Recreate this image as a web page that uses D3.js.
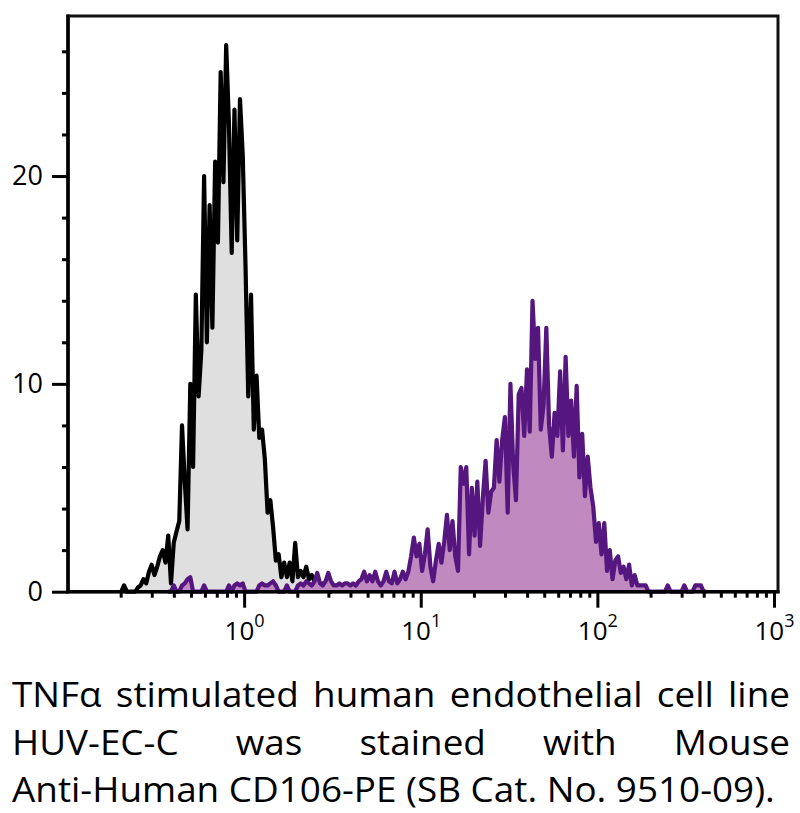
<!DOCTYPE html>
<html><head><meta charset="utf-8">
<script src="https://cdn.jsdelivr.net/npm/d3@7"></script>
<style>body{margin:0;background:#fff} svg{display:block}</style>
</head><body>
<svg id="c" width="800" height="813"></svg>
<script>
// ---- data ----
const channelsPerDecade = 64;          // histogram channels per decade of the log axis
const firstChannelLog10 = -1;          // channel 0 starts at 10^-1

const controlFirstChannel = 20;        // isotype control (grey / black)
const controlCounts = [
  0.3, 0, 0, 0, 0, 0.2, 0.3, 0.6, 0.4, 0.95,
  1.3, 0.8, 1.2, 1.7, 2.0, 1.4, 2.7, 0.4, 2.35, 2.9,
  3.4, 8.0, 5.3, 3.0, 10.0, 6.0, 14.3, 9.4, 11.6, 20.0,
  12.0, 18.6, 12.7, 20.7, 16.8, 25.0, 19.7, 26.3, 22.5, 16.3,
  23.2, 16.9, 23.7, 21.0, 15.7, 9.4, 14.3, 7.8, 10.4, 7.4,
  7.8, 6.4, 3.8, 4.4, 3.1, 1.5, 1.8, 0.7, 1.4, 0.7,
  1.4, 0.5, 2.35, 0.7, 1.0, 0.7, 1.2, 0.6, 0.8, 0.5,
  0.4, 0.3, 0.4, 0.2, 0.3, 0, 0.3, 0.2
];

const stainedFirstChannel = 37;        // CD106-PE stained (purple)
const stainedCounts = [
  0, 0.3, 0, 0, 0.3, 0.4, 0.6, 0.7, 0, 0,
  0, 0, 0.3, 0, 0, 0, 0, 0, 0, 0,
  0, 0.3, 0, 0.3, 0.4, 0.3, 0.4, 0, 0, 0,
  0, 0, 0.3, 0.4, 0.3, 0.3, 0.4, 0.5, 0.3, 0,
  0, 0, 0.3, 0, 0, 0, 0.3, 0.4, 0.3, 0.5,
  0.4, 0.3, 0.5, 0.9, 0.4, 0.3, 0.5, 0.9, 0.5, 0.3,
  0.3, 0.4, 0.3, 0.4, 0.4, 0.3, 0.4, 0.3, 0.5, 0.6,
  0.96, 0.5, 0.8, 0.5, 0.96, 0.5, 0.3, 0.5, 0.96, 0.5,
  0.4, 0.96, 0.4, 0.6, 0.96, 0.6, 0.96, 1.7, 2.6, 1.7,
  2.3, 1.0, 1.8, 3.0, 1.2, 0.5, 1.5, 2.3, 1.4, 2.4,
  3.7, 2.0, 3.4, 1.7, 1.0, 6.0, 5.2, 6.0, 1.8, 5.0,
  2.7, 5.3, 2.2, 4.5, 6.3, 3.8, 4.8, 5.0, 7.3, 5.3,
  7.3, 8.4, 3.8, 10.0, 6.1, 4.4, 9.5, 9.8, 7.5, 10.7,
  7.7, 14.0, 11.2, 12.7, 7.8, 9.0, 12.7, 8.0, 6.5, 8.6,
  7.5, 10.6, 6.8, 11.3, 7.5, 9.2, 6.5, 9.9, 5.5, 7.6,
  4.6, 6.5, 5.0, 4.1, 2.4, 3.3, 1.8, 3.3, 1.0, 2.0,
  0.6, 1.5, 1.7, 0.9, 1.2, 0.6, 1.3, 0.3, 0.8, 0.3,
  0.3, 0.3, 0.3, 0, 0, 0, 0, 0, 0, 0,
  0.3, 0, 0, 0, 0, 0, 0.3, 0, 0, 0,
  0.3, 0.3, 0.3, 0
];

const yMajorTicks = [0, 10, 20];
const yMinorTicks = [2, 4, 6, 8, 12, 14, 16, 18, 22, 24, 26];
const xMajorTicks = [1, 10, 100, 1000];
const xMajorBase = ["10", "10", "10", "10"];
const xMajorExponent = ["0", "1", "2", "3"];
const xMinorTicks = [0.2, 0.3, 0.4, 0.5, 0.6, 0.7, 0.8, 0.9,
                     2, 3, 4, 5, 6, 7, 8, 9,
                     20, 30, 40, 50, 60, 70, 80, 90,
                     200, 300, 400, 500, 600, 700, 800, 900];

const captionLines = [
  "TNFα stimulated human endothelial cell line",
  "HUV-EC-C was stained with Mouse",
  "Anti-Human CD106-PE (SB Cat. No. 9510-09)."
];
const captionJustified = [true, true, false];

// ---- layout ----
const plotLeft = 68, plotTop = 16, plotRight = 778, plotBottom = 591.7;
const svg = d3.select("#c");
const x = d3.scaleLog().domain([0.1, 1000]).range([67.5, 774]);
const y = d3.scaleLinear().domain([0, 27.7]).range([plotBottom, plotTop]);

function toPoints(first, counts) {
  const pts = [{ k: first - 1, c: 0 }];
  counts.forEach((c, i) => pts.push({ k: first + i, c }));
  pts.push({ k: first + counts.length, c: 0 });
  return pts.map(p => ({ v: Math.pow(10, firstChannelLog10 + (p.k + 0.5) / channelsPerDecade), c: p.c }));
}
const control = toPoints(controlFirstChannel, controlCounts);
const stained = toPoints(stainedFirstChannel, stainedCounts);

const area = d3.area().x(d => x(d.v)).y0(y(0)).y1(d => y(d.c));
const line = d3.line().x(d => x(d.v)).y(d => y(d.c));

const plot = svg.append("g");
plot.append("path").datum(control).attr("d", area).attr("fill", "#dfdfdf");
plot.append("path").datum(control).attr("d", line).attr("fill", "none")
  .attr("stroke", "#000").attr("stroke-width", 4.2).attr("stroke-linejoin", "round");
plot.append("path").datum(stained).attr("d", area).attr("fill", "#c08ac1");
plot.append("path").datum(stained).attr("d", line).attr("fill", "none")
  .attr("stroke", "#56167f").attr("stroke-width", 4.2).attr("stroke-linejoin", "round");

// frame
svg.append("rect").attr("x", plotLeft).attr("y", plotTop)
  .attr("width", plotRight - plotLeft).attr("height", plotBottom - plotTop)
  .attr("fill", "none").attr("stroke", "#111").attr("stroke-width", 3);

// axes
const font = "'Open Sans', 'Noto Sans', sans-serif";
function styleAxis(g) {
  g.select(".domain").remove();
  g.selectAll(".tick line").attr("stroke", "#000").attr("stroke-width", 3);
}
svg.append("g").attr("transform", `translate(${plotLeft},0)`)
  .call(d3.axisLeft(y).tickValues(yMinorTicks).tickSize(6).tickFormat(""))
  .call(styleAxis);
const yMaj = svg.append("g").attr("transform", `translate(${plotLeft},0)`)
  .call(d3.axisLeft(y).tickValues(yMajorTicks).tickSize(16).tickPadding(9).tickFormat(d3.format("d")))
  .call(styleAxis);
yMaj.selectAll(".tick text").attr("font-family", font).attr("font-size", 27).attr("fill", "#000");

svg.append("g").attr("transform", `translate(0,${plotBottom})`)
  .call(d3.axisBottom(x).tickValues(xMinorTicks).tickSize(6).tickFormat(""))
  .call(styleAxis);
const xMaj = svg.append("g").attr("transform", `translate(0,${plotBottom})`)
  .call(d3.axisBottom(x).tickValues(xMajorTicks).tickSize(16).tickFormat(""))
  .call(styleAxis);
xMaj.selectAll(".tick").each(function (d, i) {
  const t = d3.select(this).append("text").attr("y", 48).attr("text-anchor", "middle")
    .attr("font-family", font).attr("fill", "#000");
  t.append("tspan").attr("font-size", 26).text(xMajorBase[i]);
  t.append("tspan").attr("font-size", 18).attr("dy", -13).text(xMajorExponent[i]);
});

// axis lines on top
svg.append("line").attr("x1", plotLeft).attr("x2", plotLeft).attr("y1", plotTop - 1.5).attr("y2", plotBottom + 1.5)
  .attr("stroke", "#000").attr("stroke-width", 3.5);
svg.append("line").attr("x1", plotLeft - 1.5).attr("x2", plotRight + 1.5).attr("y1", plotBottom).attr("y2", plotBottom)
  .attr("stroke", "#000").attr("stroke-width", 3.5);

// caption
const capLeft = 12, capRight = 790, capRightLast = 775;
const capBaselines = [707, 755, 802];
const cap = svg.append("g").attr("font-family", font).attr("font-size", 35).attr("fill", "#000");
const probe = cap.append("text").text(captionLines[2]);
const w3 = probe.node().getComputedTextLength();
probe.remove();
const sx = (capRightLast - capLeft) / w3;
const inner = cap.append("g").attr("transform", `translate(${capLeft},0) scale(${sx},1)`);
captionLines.forEach((ln, i) => {
  const yb = capBaselines[i];
  if (captionJustified[i]) {
    const words = ln.split(" ");
    const nodes = words.map(w => inner.append("text").attr("y", yb).text(w));
    const widths = nodes.map(n => n.node().getComputedTextLength());
    const avail = (capRight - capLeft) / sx;
    const gap = (avail - d3.sum(widths)) / (words.length - 1);
    let xx = 0;
    nodes.forEach((n, j) => { n.attr("x", xx); xx += widths[j] + gap; });
  } else {
    inner.append("text").attr("x", 0).attr("y", yb).text(ln);
  }
});
</script>
</body></html>
